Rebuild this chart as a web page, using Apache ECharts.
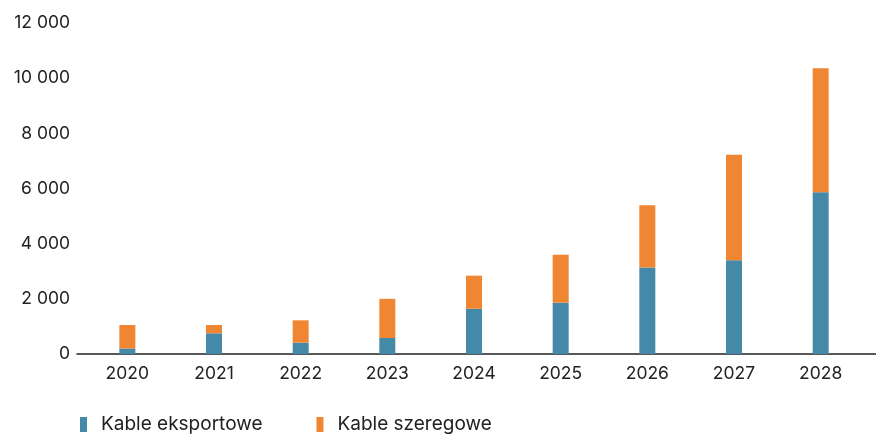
<!DOCTYPE html>
<html>
<head>
<meta charset="utf-8">
<script src="https://cdn.jsdelivr.net/npm/echarts@6/dist/echarts.min.js"></script>
<style>
  html, body { margin: 0; padding: 0; background: #fff; }
  #chartDiv { width: 876px; height: 435px; }
</style>
</head>
<body>
<div id="chartDiv"></div>
<script>
var myChart = echarts.init(document.getElementById('chartDiv'));

var years = ['2020', '2021', '2022', '2023', '2024', '2025', '2026', '2027', '2028'];
var eksportowe = [200, 750, 410, 580, 1640, 1860, 3140, 3400, 5860];
var szeregowe = [850, 300, 810, 1420, 1200, 1740, 2250, 3820, 4500];
var seriesNames = ['Kable eksportowe', 'Kable szeregowe'];
var colors = ['#4589a8', '#f08532'];

var fontFamily = 'Inter, "Noto Sans", sans-serif';

function fmt(v) {
    return String(v).replace(/\B(?=(\d{3})+(?!\d))/g, ' ');
}

var option = {
    backgroundColor: '#fff',
    animation: false,
    color: colors,
    legend: {
        left: 75,
        bottom: -4,
        itemWidth: 7,
        itemHeight: 15,
        itemGap: 54,
        icon: 'rect',
        textStyle: {
            fontFamily: fontFamily,
            fontSize: 19,
            color: '#222',
            padding: [0, 0, 0, 9]
        },
        data: seriesNames
    },
    grid: [
        {left: 84, right: 12, top: 23, bottom: 81},
        {left: 77, right: 0, top: 23, bottom: 81}
    ],
    xAxis: [
        {
            type: 'category',
            gridIndex: 0,
            data: years,
            axisLine: {show: false},
            axisTick: {show: false},
            axisLabel: {
                margin: 11,
                fontFamily: fontFamily,
                fontSize: 17.5,
                color: '#222'
            }
        },
        {
            // only the baseline, a bit wider than the bars area
            type: 'value',
            gridIndex: 1,
            min: 0,
            max: 1,
            axisLine: {show: true, lineStyle: {color: '#222', width: 1.5}},
            axisTick: {show: false},
            axisLabel: {show: false},
            splitLine: {show: false}
        }
    ],
    yAxis: [
        {
            type: 'value',
            gridIndex: 0,
            min: 0,
            max: 12000,
            interval: 2000,
            axisLine: {show: false},
            axisTick: {show: false},
            splitLine: {show: false},
            axisLabel: {
                margin: 14,
                fontFamily: fontFamily,
                fontSize: 17.5,
                color: '#222',
                formatter: fmt
            }
        },
        {
            type: 'value',
            gridIndex: 1,
            show: false
        }
    ],
    series: [
        {
            name: seriesNames[0],
            type: 'bar',
            stack: 'total',
            barWidth: 16,
            data: eksportowe
        },
        {
            name: seriesNames[1],
            type: 'bar',
            stack: 'total',
            barWidth: 16,
            data: szeregowe
        }
    ]
};
myChart.setOption(option);
</script>
</body>
</html>
